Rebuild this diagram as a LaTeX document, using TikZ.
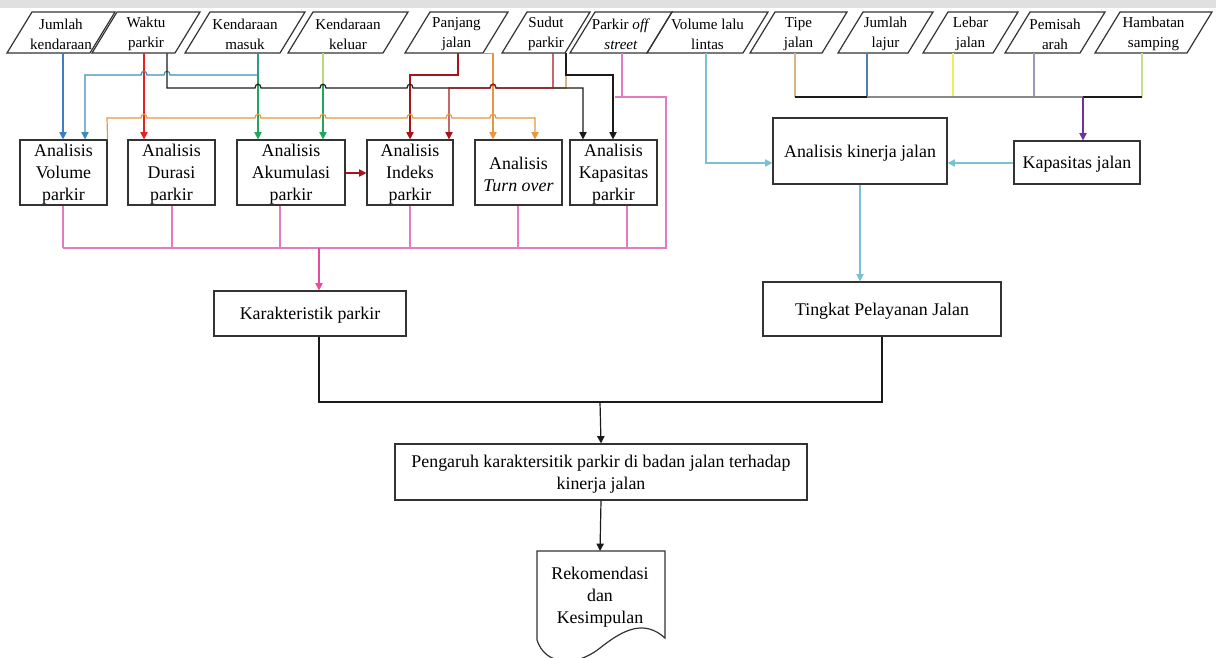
\documentclass[tikz,border=0pt]{standalone}
\usepackage{fontspec}
\setmainfont{Liberation Serif}
\usetikzlibrary{arrows.meta}
\definecolor{boxc}{HTML}{333333}
\definecolor{cblue}{HTML}{3C7DC4}
\definecolor{cteal}{HTML}{3A8FB7}
\definecolor{cred}{HTML}{E3231F}
\definecolor{cgreen}{HTML}{1FA85B}
\definecolor{clgreen}{HTML}{B8D87A}
\definecolor{cdred}{HTML}{A8141B}
\definecolor{corange}{HTML}{E8963F}
\definecolor{cblack}{HTML}{1A1A1A}
\definecolor{cpink}{HTML}{E27BC0}
\definecolor{cpinkd}{HTML}{E84A9C}
\definecolor{clblue}{HTML}{78C2D4}
\definecolor{cpurple}{HTML}{7030A0}
\definecolor{ctan}{HTML}{D8B48C}
\definecolor{clajur}{HTML}{4F7FAF}
\definecolor{cyellow}{HTML}{EEEE55}
\definecolor{cpem}{HTML}{9A98B8}
\definecolor{cham}{HTML}{C6DE90}
\definecolor{cgrayline}{HTML}{8A8A8A}
\tikzset{
  box/.style={draw=boxc, line width=0.9pt, fill=white, inner sep=0pt},
  btxt/.style={align=center, inner sep=0pt, font=\fontsize{13.4}{16.5}\selectfont},
  ptxt/.style={align=center, inner sep=0pt, font=\fontsize{11.3}{15}\selectfont},
  pline/.style={draw=boxc, line width=0.9pt},
  conn/.style={line width=0.9pt},
  arr/.style={conn, -{Triangle[length=5.5pt,width=5.5pt]}},
}
\newcommand\mybox[6]{%
  \node[box,minimum width={(#4-#2)*0.75pt},minimum height={(#5-#3)*0.75pt}] (#1) at ({(#2+#4)/2},{(#3+#5)/2}) {};
  \node[btxt] (#1-t) at ([yshift=-1.6pt]#1.center) {#6};}
\newcommand\mypara[4]{%
  \draw[pline] (#2,53) -- (#3,53) -- ({#3+25},12) -- ({#2+25},12) -- cycle;
  \node[minimum height=30.75pt, inner sep=0pt] (#1) at ({(#2+#3+25)/2},32.5) {};
  \node[ptxt] (#1-t) at ([yshift=-1.3pt]#1.center) {#4};}
\begin{document}
\begin{tikzpicture}[x=0.75pt,y=-0.75pt]
\useasboundingbox (0,0) rectangle (1216,657);
\fill[black!12] (0,0) rectangle (1216,8);
% top inputs
\mypara{jk}{7}{90}{Jumlah\\kendaraan}
\mypara{wp}{92}{175}{Waktu\\parkir}
\mypara{km}{185}{280}{Kendaraan\\masuk}
\mypara{kk}{288}{383}{Kendaraan\\keluar}
\mypara{pj}{405}{483}{Panjang\\jalan}
\mypara{sp}{502}{565}{Sudut\\parkir}
\mypara{po}{570}{647}{Parkir \textit{off}\\\textit{street}}
\mypara{vl}{647}{743}{Volume lalu\\lintas}
\mypara{tj}{750}{822}{Tipe\\jalan}
\mypara{jl}{838}{908}{Jumlah\\lajur}
\mypara{lj}{923}{993}{Lebar\\jalan}
\mypara{pa}{1005}{1080}{Pemisah\\arah}
\mypara{hs}{1095}{1187}{Hambatan\\samping}
% analysis boxes
\mybox{vol}{20}{140}{107}{205}{Analisis\\Volume\\parkir}
\mybox{dur}{128}{140}{215}{205}{Analisis\\Durasi\\parkir}
\mybox{aku}{237}{140}{345}{205}{Analisis\\Akumulasi\\parkir}
\mybox{ind}{367}{140}{453}{205}{Analisis\\Indeks\\parkir}
\mybox{tov}{475}{140}{562}{205}{Analisis\\\textit{Turn over}}
\mybox{kap}{570}{140}{657}{205}{Analisis\\Kapasitas\\parkir}
\mybox{kar}{214}{291}{406}{336}{Karakteristik parkir}
\mybox{kin}{773}{118}{947}{184}{Analisis kinerja jalan}
\mybox{kj}{1014}{141}{1140}{184}{Kapasitas jalan}
\mybox{tpj}{763}{282}{1001}{336}{Tingkat Pelayanan Jalan}
\mybox{pen}{395}{444}{807}{500}{Pengaruh karaktersitik parkir di badan jalan terhadap\\kinerja jalan}
% document shape
\draw[pline, fill=white] (537,551) -- (665,551) -- (665,638) .. controls (645,620) and (625,628) .. (600,648) .. controls (575,668) and (545,665) .. (537,640) -- cycle;
\node[btxt] (rek) at (600,597) {Rekomendasi\\dan\\Kesimpulan};
\coordinate (rektop) at (600,551);
% ---- left connectors: verticals first
\draw[arr, cblue] (63,0 |- jk.south) -- (63,0 |- vol.north);
\draw[arr, cgreen] (258,0 |- km.south) -- (258,0 |- aku.north);
\draw[arr, cgreen] (323,0 |- kk.south) -- (323,0 |- aku.north);
\draw[conn, clgreen] (323,0 |- kk.south) -- (323,84);
\draw[arr, cred] (144,0 |- wp.south) -- (144,0 |- dur.north);
\draw[arr, cdred] (458,0 |- pj.south) -- (458,75) -- (410,75) -- (410,0 |- ind.north);
\draw[arr, corange] (483,0 |- pj.south) -- (493,0 |- pj.south) -- (493,0 |- tov.north);
\draw[conn, ctan] (566,0 |- sp.south) -- (566,88) -- (553,88);
\draw[arr, cblack] (566,0 |- sp.south) -- (566,75) -- (613,75) -- (613,0 |- kap.north);
% teal: Kendaraan masuk -> Volume
\draw[arr, cteal] (258,0 |- km.south) -- (258,75) -- (170,75) .. controls (170,70) and (164,70) .. (164,75) -- (147,75) .. controls (147,70) and (141,70) .. (141,75) -- (85,75) -- (85,0 |- vol.north);
% black: Waktu parkir -> Kapasitas parkir
\draw[arr, cblack] (167,0 |- wp.south) -- (167,88) -- (255,88) .. controls (255,83) and (261,83) .. (261,88) -- (320,88) .. controls (320,83) and (326,83) .. (326,88) -- (407,88) .. controls (407,83) and (413,83) .. (413,88) -- (490,88) .. controls (490,83) and (496,83) .. (496,88) -- (583,88) -- (583,0 |- kap.north);
% dark red: Sudut parkir -> Indeks
\draw[arr, cdred] (553,0 |- sp.south) -- (553,88) -- (496,88) .. controls (496,83) and (490,83) .. (490,88) -- (449,88) -- (449,0 |- ind.north);
% orange: Volume -> Turn over
\draw[arr, corange] (vol.north east) -- (107,118) -- (141,118) .. controls (141,113) and (147,113) .. (147,118) -- (255,118) .. controls (255,113) and (261,113) .. (261,118) -- (320,118) .. controls (320,113) and (326,113) .. (326,118) -- (407,118) .. controls (407,113) and (413,113) .. (413,118) -- (446,118) .. controls (446,113) and (452,113) .. (452,118) -- (490,118) .. controls (490,113) and (496,113) .. (496,118) -- (535,118) -- (535,0 |- tov.north);
% Akumulasi -> Indeks
\draw[arr, cdred] (aku.east |- 0,173) -- (ind.west |- 0,173);
% pink bus
\draw[conn, cpink] (622,0 |- po.south) -- (622,97);
\draw[conn, cpink] (615,97) -- (666,97) -- (666,248) -- (63,248);
\foreach \xx/\nn in {63/vol,172/dur,280/aku,410/ind,518/tov,627/kap}
  \draw[conn, cpink] (\xx,0 |- \nn.south) -- (\xx,248);
\draw[arr, cpinkd] (319,248) -- (319,0 |- kar.north);
% ---- right connectors
\draw[arr, clblue] (706,0 |- vl.south) -- (706,163) -- (kin.west |- 0,163);
\draw[conn, ctan] (795,0 |- tj.south) -- (795,97);
\draw[conn, clajur] (867,0 |- jl.south) -- (867,97);
\draw[conn, cyellow] (953,0 |- lj.south) -- (953,97);
\draw[conn, cpem] (1034,0 |- pa.south) -- (1034,97);
\draw[conn, cham] (1142,0 |- hs.south) -- (1142,97);
\draw[conn, cgrayline] (867,97) -- (1083,97);
\draw[conn, cblack] (795,97) -- (867,97);
\draw[conn, cblack] (1083,97) -- (1142,97);
\draw[arr, cpurple] (1083,97) -- (1083,0 |- kj.north);
\draw[arr, clblue] (kj.west |- 0,163) -- (kin.east |- 0,163);
\draw[arr, clblue] (860,0 |- kin.south) -- (860,0 |- tpj.north);
% ---- bottom connectors
\draw[conn, cblack] (319,0 |- kar.south) -- (319,402) -- (882,402) -- (tpj.south);
\draw[arr, cblack] (600,402) -- (pen.north);
\draw[arr, cblack] (pen.south) -- (rektop);
\end{tikzpicture}
\end{document}
